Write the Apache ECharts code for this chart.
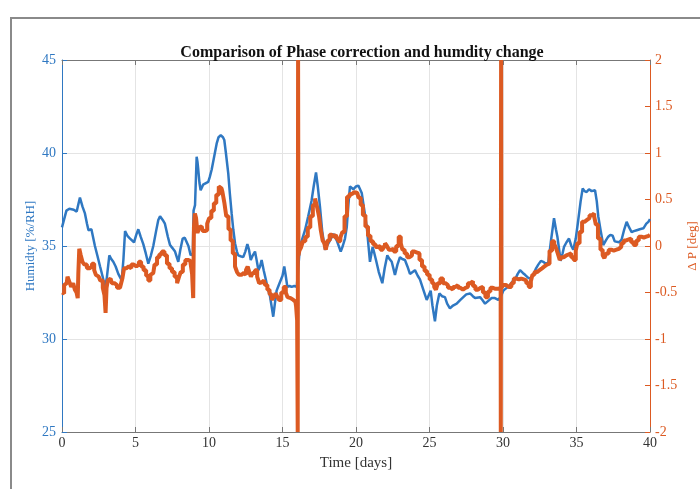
<!DOCTYPE html>
<html>
<head>
<meta charset="utf-8">
<script src="https://cdn.jsdelivr.net/npm/echarts@6/dist/echarts.min.js"></script>
<style>
  html, body { margin: 0; padding: 0; background: #fff; }
  #chart { width: 700px; height: 489px; }
</style>
</head>
<body>
<div id="chart"></div>
<script>
// Relative humidity over the measurement campaign [%RH]
const humDays = [0.0,0.1,0.3,0.5,0.8,1.0,1.1,1.22,1.4,1.56,1.7,1.8,2.0,2.24,2.4,2.59,2.75,2.93,3.05,3.22,3.35,3.49,3.65,3.83,4.06,4.18,4.29,4.45,4.63,4.9,5.05,5.19,5.35,5.53,5.7,5.87,6.05,6.21,6.4,6.55,6.67,6.85,7.0,7.2,7.35,7.5,7.69,7.91,8.05,8.21,8.35,8.48,8.6,8.75,8.9,8.95,9.05,9.16,9.22,9.27,9.35,9.43,9.6,9.73,9.95,10.05,10.18,10.35,10.52,10.65,10.8,10.95,11.04,11.15,11.31,11.42,11.54,11.65,11.77,11.9,11.99,12.15,12.33,12.47,12.61,12.72,12.84,12.98,13.13,13.25,13.36,13.47,13.58,13.72,13.88,14.0,14.15,14.27,14.37,14.48,14.6,14.75,14.88,15.0,15.12,15.22,15.33,15.48,15.62,15.8,15.97,16.05,16.19,16.35,16.53,16.75,16.98,17.12,17.28,17.4,17.55,17.7,17.89,18.0,18.23,18.46,18.69,18.96,19.1,19.25,19.37,19.48,19.59,19.82,20.0,20.16,20.39,20.55,20.73,20.85,20.95,21.13,21.25,21.36,21.55,21.79,21.95,22.13,22.28,22.43,22.65,22.82,22.99,23.15,23.33,23.5,23.67,24.01,24.2,24.35,24.6,24.81,25.08,25.2,25.37,25.5,25.67,25.85,26.05,26.2,26.39,26.6,26.85,27.1,27.3,27.5,27.76,27.95,28.1,28.44,28.6,28.78,29.0,29.23,29.45,29.68,29.86,30.02,30.25,30.48,30.65,30.82,31.0,31.16,31.35,31.5,31.7,31.84,32.06,32.25,32.4,32.58,32.74,32.9,33.08,33.25,33.47,33.6,33.7,33.82,33.92,34.05,34.15,34.32,34.49,34.65,34.78,34.95,35.12,35.28,35.42,35.55,35.69,35.85,36.03,36.26,36.38,36.48,36.65,36.82,37.0,37.16,37.3,37.46,37.6,37.73,37.9,38.07,38.25,38.41,38.58,38.75,38.9,39.1,39.3,39.55,39.75,39.89,40.0];
const humidity = [36.0,36.1,36.9,37.0,36.95,36.85,37.2,37.6,37.1,36.75,36.2,35.85,35.9,35.0,34.5,33.9,33.4,32.8,33.3,34.5,34.3,34.15,33.9,33.5,33.15,34.3,35.8,35.55,35.4,35.2,35.6,35.9,35.5,35.1,34.6,34.05,34.5,35.0,35.8,36.4,36.6,36.4,36.2,35.5,35.05,34.9,34.7,34.15,34.8,35.4,35.45,35.35,35.0,34.5,34.6,36.9,37.2,39.8,39.5,39.1,38.4,38.0,38.3,38.4,38.45,38.7,39.1,39.8,40.5,40.85,40.95,40.85,40.7,40.0,38.9,37.8,36.75,35.9,35.15,34.7,34.5,34.45,34.4,34.7,35.1,34.8,34.25,34.5,34.7,34.2,33.7,33.9,34.25,33.7,33.15,32.7,32.3,31.7,31.2,31.9,32.6,32.9,33.0,33.4,33.9,33.4,32.8,32.85,32.8,32.85,32.8,32.9,35.0,35.4,35.85,36.6,37.45,38.2,38.95,38.2,37.1,35.8,34.8,34.7,35.3,35.65,35.3,34.7,35.0,35.4,36.0,37.2,38.2,38.05,38.2,38.25,37.85,37.0,36.05,35.0,34.15,34.95,34.6,34.25,33.6,33.0,33.8,34.5,34.3,34.15,33.45,34.0,34.4,34.3,34.25,33.9,33.5,33.7,33.4,33.2,32.6,32.1,32.6,31.8,30.95,31.8,32.45,32.3,32.25,31.9,31.65,31.8,31.9,32.1,32.25,32.4,32.45,32.3,32.2,32.25,32.1,31.9,32.05,32.2,32.2,32.1,32.3,32.6,32.75,32.9,33.1,33.2,33.5,33.7,33.55,33.45,33.3,33.25,33.45,33.8,34.0,34.2,34.15,34.05,34.1,35.2,36.5,35.9,35.5,34.8,34.2,34.6,34.95,35.2,35.4,35.0,34.8,35.4,36.4,37.4,38.1,37.95,37.9,38.05,37.95,38.0,37.4,36.6,35.8,35.05,35.3,35.5,35.6,35.55,35.25,35.15,35.2,35.35,35.9,36.3,36.0,35.75,35.8,35.85,35.9,35.95,36.2,36.3,36.45];

// Phase correction Delta P [deg]; the two full-scale jumps are phase resets
const phaseDays = [0.0,0.09,0.2,0.32,0.43,0.55,0.7,0.82,0.93,1.05,1.09,1.13,1.22,1.33,1.45,1.6,1.79,1.95,2.13,2.25,2.36,2.5,2.7,2.85,2.93,3.0,3.06,3.17,3.3,3.49,3.65,3.83,4.06,4.15,4.29,4.45,4.63,4.8,4.97,5.15,5.31,5.45,5.65,5.8,5.94,6.08,6.21,6.38,6.55,6.7,6.89,7.05,7.23,7.4,7.57,7.75,7.91,8.02,8.14,8.3,8.48,8.65,8.8,8.9,8.95,9.0,9.08,9.16,9.27,9.4,9.5,9.65,9.8,9.95,10.07,10.25,10.41,10.58,10.75,10.85,10.98,11.1,11.25,11.4,11.54,11.7,11.84,11.97,12.11,12.3,12.45,12.58,12.68,12.8,12.9,13.05,13.2,13.35,13.47,13.6,13.74,13.9,14.04,14.2,14.33,14.47,14.6,14.72,14.83,15.0,15.17,15.28,15.4,15.55,15.74,15.88,15.97,16.02,16.05,16.07,16.1,16.2,16.3,16.47,16.64,16.8,16.98,17.15,17.28,17.42,17.55,17.66,17.8,17.89,18.0,18.14,18.28,18.42,18.57,18.72,18.87,19.0,19.14,19.3,19.48,19.65,19.82,19.95,20.09,20.25,20.39,20.55,20.73,20.9,21.07,21.25,21.41,21.58,21.75,21.9,22.04,22.17,22.31,22.48,22.65,22.82,22.99,23.1,23.22,23.4,23.56,23.72,23.9,24.07,24.24,24.4,24.58,24.75,24.92,25.1,25.26,25.38,25.49,25.65,25.83,26.0,26.17,26.34,26.51,26.68,26.85,27.02,27.19,27.36,27.53,27.7,27.87,28.04,28.21,28.38,28.55,28.72,28.89,29.06,29.23,29.4,29.57,29.75,29.84,29.86,29.88,29.9,30.14,30.3,30.48,30.65,30.82,31.0,31.16,31.33,31.5,31.67,31.84,31.95,32.06,32.23,32.4,32.57,32.74,32.9,33.08,33.25,33.42,33.55,33.65,33.8,33.92,34.07,34.22,34.4,34.56,34.72,34.9,35.0,35.12,35.3,35.46,35.63,35.8,35.97,36.14,36.26,36.37,36.55,36.71,36.85,36.94,37.1,37.28,37.45,37.62,37.8,37.96,38.13,38.3,38.47,38.64,38.8,38.98,39.15,39.32,39.5,39.66,39.83,40.0];
const phase = [-0.5,-0.51,-0.42,-0.4,-0.33,-0.38,-0.44,-0.4,-0.47,-0.5,-0.56,-0.3,-0.03,-0.1,-0.17,-0.2,-0.24,-0.22,-0.19,-0.26,-0.31,-0.33,-0.37,-0.45,-0.53,-0.72,-0.45,-0.37,-0.35,-0.4,-0.42,-0.45,-0.45,-0.35,-0.24,-0.22,-0.24,-0.2,-0.22,-0.2,-0.17,-0.22,-0.26,-0.32,-0.37,-0.31,-0.29,-0.2,-0.12,-0.09,-0.06,-0.1,-0.19,-0.24,-0.28,-0.33,-0.4,-0.33,-0.28,-0.2,-0.15,-0.16,-0.15,-0.3,-0.56,0.2,0.35,0.3,0.14,0.2,0.21,0.16,0.17,0.24,0.3,0.38,0.46,0.55,0.64,0.62,0.58,0.47,0.32,0.18,0.06,-0.08,-0.22,-0.28,-0.31,-0.29,-0.31,-0.26,-0.22,-0.28,-0.33,-0.29,-0.26,-0.33,-0.4,-0.39,-0.37,-0.42,-0.47,-0.52,-0.58,-0.55,-0.51,-0.55,-0.58,-0.5,-0.44,-0.5,-0.55,-0.56,-0.58,-0.6,-0.65,-0.8,-2,2,-0.1,-0.05,-0.02,0.05,0.1,0.2,0.32,0.44,0.51,0.42,0.32,0.17,0.06,0.03,-0.04,0.06,0.12,0.1,0.12,0.08,0.05,0.09,0.15,0.32,0.53,0.56,0.58,0.59,0.57,0.52,0.44,0.33,0.21,0.11,0.05,0.02,-0.01,0.0,-0.04,-0.01,0.03,0.0,-0.04,-0.03,-0.06,0.0,0.1,0.03,-0.04,-0.08,-0.12,-0.1,-0.06,-0.07,-0.08,-0.15,-0.22,-0.27,-0.31,-0.36,-0.4,-0.44,-0.47,-0.4,-0.35,-0.4,-0.42,-0.45,-0.47,-0.44,-0.42,-0.45,-0.47,-0.45,-0.44,-0.4,-0.38,-0.43,-0.47,-0.45,-0.44,-0.5,-0.55,-0.49,-0.45,-0.46,-0.46,-0.45,-0.45,-2,2,-0.45,-0.42,-0.44,-0.44,-0.4,-0.35,-0.36,-0.35,-0.36,-0.37,-0.4,-0.44,-0.38,-0.31,-0.28,-0.26,-0.24,-0.22,-0.2,-0.19,-0.05,0.05,0.02,-0.02,-0.08,-0.15,-0.12,-0.1,-0.09,-0.08,-0.12,-0.15,-0.05,0.03,0.15,0.26,0.28,0.3,0.33,0.35,0.32,0.23,0.08,-0.04,-0.1,-0.13,-0.08,-0.04,-0.05,-0.04,-0.03,-0.01,0.03,0.06,0.07,0.08,0.04,0.01,0.06,0.1,0.09,0.1,0.11,0.12];

const BLUE = '#2f78c2';
const ORANGE = '#dc5a22';
const SERIF = '"Liberation Serif", "DejaVu Serif", serif';

const chart = echarts.init(document.getElementById('chart'), null, { renderer: 'canvas' });

chart.setOption({
  backgroundColor: '#fff',
  animation: false,
  title: {
    text: 'Comparison of Phase correction and humdity change',
    left: 357, textAlign: 'center', top: 40,
    textStyle: { fontFamily: SERIF, fontSize: 16, fontWeight: 'bold', color: '#111' }
  },
  graphic: [{
    type: 'rect', shape: { x: 11, y: 18, width: 720, height: 500 },
    style: { fill: 'none', stroke: '#8a8a8a', lineWidth: 2 }, silent: true, z: -1
  }],
  grid: {
    left: 62, right: 50, top: 60, bottom: 57, show: false,
    containLabel: false, outerBoundsMode: 'none'
  },
  xAxis: [{
    type: 'value', min: 0, max: 40, interval: 5, position: 'bottom',
    name: 'Time [days]', nameLocation: 'middle', nameGap: 24, nameMoveOverlap: false,
    nameTextStyle: { fontFamily: SERIF, fontSize: 15, color: '#333' },
    axisLine: { onZero: false, lineStyle: { color: '#777', width: 1 } },
    axisTick: { inside: true, length: 5, lineStyle: { color: '#777' } },
    axisLabel: { fontFamily: SERIF, fontSize: 14, color: '#333', margin: 4 },
    splitLine: { show: true, lineStyle: { color: '#e4e4e4', width: 1 } }
  }, {
    type: 'value', min: 0, max: 40, interval: 5, position: 'top',
    axisLine: { onZero: false, lineStyle: { color: '#777', width: 1 } },
    axisTick: { inside: true, length: 5, lineStyle: { color: '#777' } },
    axisLabel: { show: false },
    splitLine: { show: false }
  }],
  yAxis: [{
    type: 'value', min: 25, max: 45, interval: 5, position: 'left',
    name: 'Humidty [%/RH]', nameLocation: 'middle', nameGap: 25, nameRotate: 90,
    nameMoveOverlap: false,
    nameTextStyle: { fontFamily: SERIF, fontSize: 13, color: BLUE },
    axisLine: { show: true, onZero: false, lineStyle: { color: BLUE, width: 1 } },
    axisTick: { show: true, inside: true, length: 5, lineStyle: { color: BLUE } },
    axisLabel: { fontFamily: SERIF, fontSize: 14, color: BLUE, margin: 6 },
    splitLine: { show: true, lineStyle: { color: '#e4e4e4', width: 1 } }
  }, {
    type: 'value', min: -2, max: 2, interval: 0.5, position: 'right',
    name: 'Δ P [deg]', nameLocation: 'middle', nameGap: 36, nameRotate: 90,
    nameMoveOverlap: false,
    nameTextStyle: { fontFamily: SERIF, fontSize: 13, color: ORANGE },
    axisLine: { show: true, onZero: false, lineStyle: { color: ORANGE, width: 1 } },
    axisTick: { show: true, inside: true, length: 5, lineStyle: { color: ORANGE } },
    axisLabel: { fontFamily: SERIF, fontSize: 14, color: ORANGE, margin: 5 },
    splitLine: { show: false }
  }],
  series: [{
    name: 'Humidity', type: 'line', xAxisIndex: 0, yAxisIndex: 0,
    data: humDays.map((d, i) => [d, humidity[i]]),
    showSymbol: false, smooth: false,
    lineStyle: { color: BLUE, width: 2.5 }, z: 2
  }, {
    name: 'Delta P', type: 'line', xAxisIndex: 0, yAxisIndex: 1,
    data: phaseDays.map((d, i) => [d, phase[i]]),
    showSymbol: false, step: 'middle',
    lineStyle: { color: ORANGE, width: 4 }, z: 3
  }]
});
</script>
</body>
</html>
